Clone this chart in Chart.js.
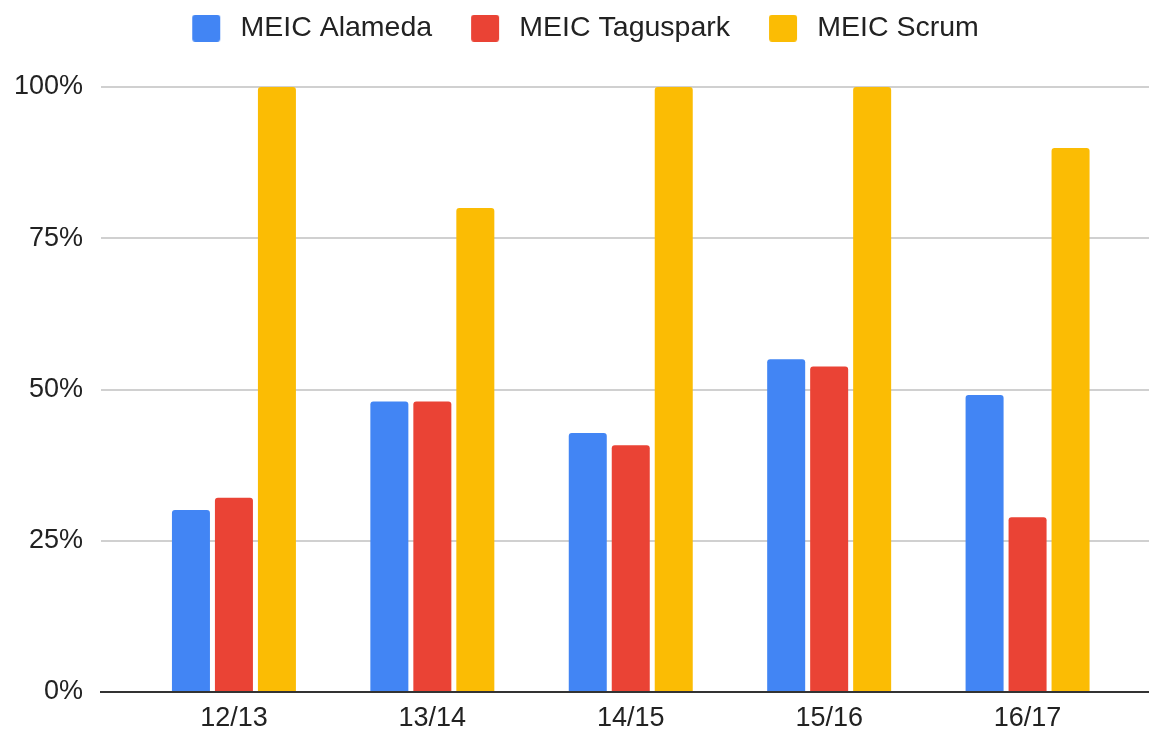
<!DOCTYPE html>
<html>
<head>
<meta charset="utf-8">
<script src="https://cdn.jsdelivr.net/npm/chart.js@4/dist/chart.umd.min.js"></script>
<style>
  html, body { margin: 0; padding: 0; background: #ffffff; }
  #wrap { width: 1149px; height: 734px; }
</style>
</head>
<body>
<div id="wrap"><canvas id="c" width="1149" height="734"></canvas></div>
<script>
const categories = ['12/13', '13/14', '14/15', '15/16', '16/17'];
const seriesNames = ['MEIC Alameda', 'MEIC Taguspark', 'MEIC Scrum'];
const alameda   = [30.1, 48.0, 42.8, 55.0, 49.1];
const taguspark = [32.1, 48.0, 40.8, 53.8, 28.9];
const scrum     = [100, 80, 100, 100, 89.9];
const yTicks = [0, 25, 50, 75, 100];
const colors = ['#4285F4', '#EA4335', '#FBBC04'];

const FONT = "'Liberation Sans', Arial, sans-serif";

function legendIcon(color) {
  const c = document.createElement('canvas');
  c.width = 40; c.height = 27;
  const g = c.getContext('2d');
  g.fillStyle = color;
  const x = 6, y = 0, w = 28, h = 27, r = 3;
  g.beginPath();
  g.moveTo(x + r, y);
  g.lineTo(x + w - r, y);
  g.quadraticCurveTo(x + w, y, x + w, y + r);
  g.lineTo(x + w, y + h - r);
  g.quadraticCurveTo(x + w, y + h, x + w - r, y + h);
  g.lineTo(x + r, y + h);
  g.quadraticCurveTo(x, y + h, x, y + h - r);
  g.lineTo(x, y + r);
  g.quadraticCurveTo(x, y, x + r, y);
  g.fill();
  return c;
}
const icons = colors.map(legendIcon);

const seriesValues = [alameda, taguspark, scrum];
const datasets = seriesValues.map((vals, s) => ({
  label: seriesNames[s],
  data: vals.map((v, i) => ({ x: i, y: v })),
  backgroundColor: colors[s],
  borderWidth: 0,
  borderRadius: 3,
  categoryPercentage: 0.65,
  barPercentage: 0.884
}));

const legendPlacement = {
  id: 'legendPlacement',
  beforeInit(chart) {
    const orig = chart.legend.fit;
    chart.legend.fit = function () {
      orig.call(this);
      this.height = 87;
    };
  },
  afterLayout(chart) {
    chart.legend.top = -19;
  }
};

new Chart(document.getElementById('c'), {
  type: 'bar',
  data: { datasets },
  plugins: [legendPlacement],
  options: {
    responsive: false,
    devicePixelRatio: 1,
    animation: false,
    layout: { padding: { left: 16, right: 0, top: 0, bottom: 0 } },
    plugins: {
      tooltip: { enabled: false },
      legend: {
        position: 'top',
        align: 'center',
        labels: {
          usePointStyle: true,
          pointStyleWidth: 40,
          boxHeight: 27,
          padding: 33,
          color: '#222222',
          font: { family: FONT, size: 28.5 },
          generateLabels(chart) {
            const items = Chart.defaults.plugins.legend.labels.generateLabels(chart);
            return items.map((it, i) => Object.assign(it, { pointStyle: icons[i] }));
          }
        }
      }
    },
    scales: {
      x: {
        type: 'linear',
        min: -0.670,
        max: 4.612,
        offset: false,
        grid: { display: false, drawTicks: false },
        border: { display: true, color: '#333333', width: 2 },
        afterBuildTicks(scale) {
          scale.ticks = categories.map((c, i) => ({ value: i }));
        },
        afterFit(scale) { scale.height = 42; },
        ticks: {
          autoSkip: false,
          maxRotation: 0,
          padding: 10,
          color: '#222222',
          font: { family: FONT, size: 27 },
          callback: (v) => categories[v] !== undefined ? categories[v] : ''
        }
      },
      y: {
        min: 0,
        max: 100,
        afterBuildTicks(scale) {
          scale.ticks = yTicks.map(v => ({ value: v }));
        },
        afterFit(scale) { scale.width = 85; },
        border: { display: false },
        grid: {
          drawTicks: false,
          lineWidth: 2,
          color: (ctx) => (ctx.tick && ctx.tick.value === 0) ? '#333333' : '#d0d0d0'
        },
        ticks: {
          padding: 18,
          color: '#222222',
          font: { family: FONT, size: 27 },
          callback: (v) => v + '%'
        }
      }
    }
  }
});
</script>
</body>
</html>
